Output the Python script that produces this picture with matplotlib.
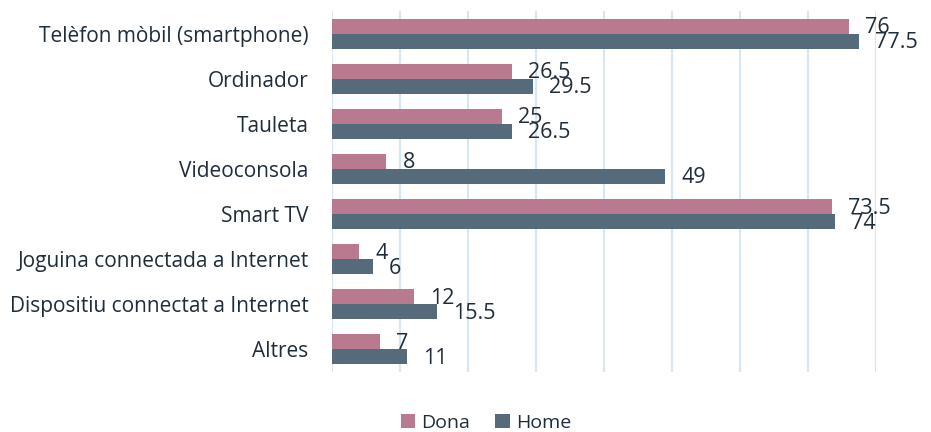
import numpy as np
import matplotlib
matplotlib.use("Agg")
import matplotlib.pyplot as plt

categories = [
    "Telèfon mòbil (smartphone)",
    "Ordinador",
    "Tauleta",
    "Videoconsola",
    "Smart TV",
    "Joguina connectada a Internet",
    "Dispositiu connectat a Internet",
    "Altres",
]
dona = [76, 26.5, 25, 8, 73.5, 4, 12, 7]
home = [77.5, 29.5, 26.5, 49, 74, 6, 15.5, 11]
dona_labels = ["76", "26.5", "25", "8", "73.5", "4", "12", "7"]
home_labels = ["77.5", "29.5", "26.5", "49", "74", "6", "15.5", "11"]

_PINK, _SLATE, _GRID_C, _TEXT_C = "#B97A8F", "#556A7B", "#D6E6F2", "#1F2D3B"

plt.rcParams["font.family"] = ["Open Sans", "DejaVu Sans"]

fig = plt.figure(figsize=(9.31, 4.32), dpi=100)
ax = fig.add_axes([332 / 931, 1 - 372 / 432, 544 / 931, 361 / 432])

y = np.arange(len(categories))
h = 1 / 3
ax.barh(y - h / 2, dona, height=h, color=_PINK, label="Dona", zorder=2)
ax.barh(y + h / 2, home, height=h, color=_SLATE, label="Home", zorder=2)

# value labels sit a little right of the bar end, slightly low
for yi, v, lab in zip(y, dona, dona_labels):
    ax.annotate(lab, (v, yi - h / 2), xytext=(16, -1.5), textcoords="offset pixels",
                va="center", ha="left", fontsize=15.5, color=_TEXT_C)
for yi, v, lab in zip(y, home, home_labels):
    ax.annotate(lab, (v, yi + h / 2), xytext=(16, -1.5), textcoords="offset pixels",
                va="center", ha="left", fontsize=15.5, color=_TEXT_C)

ax.set_xlim(0, 80)
ax.set_ylim(len(categories) - 0.5, -0.5)
ax.set_xticks(np.arange(0, 81, 10))
ax.set_xticklabels([])
ax.set_yticks(y)
ax.set_yticklabels(categories, fontsize=15, color=_TEXT_C)
ax.tick_params(length=0, pad=17)
ax.grid(axis="x", color=_GRID_C, lw=1.5, zorder=0)
for spine in ax.spines.values():
    spine.set_visible(False)

fig.legend(loc="center", bbox_to_anchor=(486 / 931, 1 - 423 / 432), ncol=2,
           frameon=False, fontsize=14, handlelength=0.75, handleheight=0.75,
           handletextpad=0.3, columnspacing=1.3, labelcolor=_TEXT_C)

fig.savefig("out.png", dpi=100)
